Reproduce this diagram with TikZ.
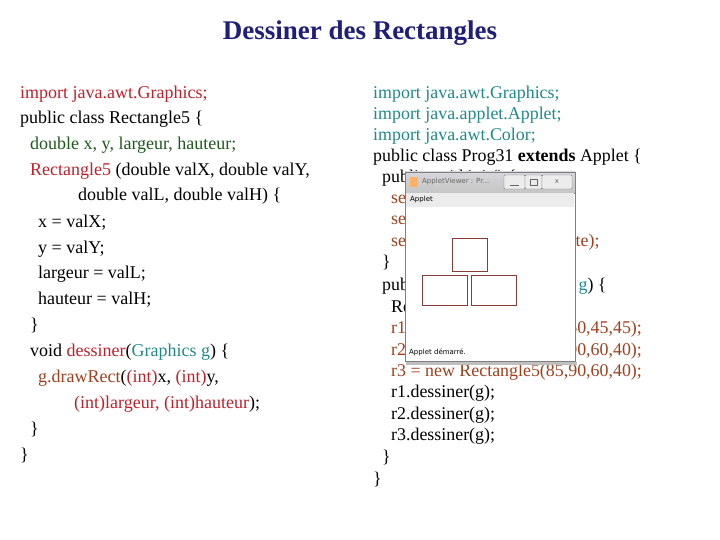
\documentclass[tikz,border=0pt]{standalone}
\usepackage{fontspec}
\setmainfont{Liberation Serif}
\newfontfamily\uifont{DejaVu Sans}
\definecolor{navy}{HTML}{1F1F7A}
\definecolor{kred}{HTML}{C0202A}
\definecolor{kbrown}{HTML}{A0401E}
\definecolor{kgreen}{HTML}{1E5A1E}
\definecolor{kteal}{HTML}{208A8A}
\definecolor{rectc}{HTML}{8B3A3A}
\begin{document}
\begin{tikzpicture}[x=1pt,y=-1pt,
  code/.style={anchor=base west,inner sep=0pt,font=\fontsize{18}{18}\selectfont},
  rcode/.style={anchor=base west,inner sep=0pt,font=\fontsize{17.9}{17.9}\selectfont}]
\useasboundingbox[fill=white] (0,0) rectangle (720,540);
\node[font=\fontsize{27}{27}\selectfont\bfseries,text=navy,inner sep=0pt] (title) at (360,33) {Dessiner des Rectangles};
% left column
\node[code,text=kred] (l1) at (20,99) {import java.awt.Graphics;};
\node[code] (l2) at (20,124) {public class Rectangle5 \{};
\node[code,text=kgreen] (l3) at (30,150) {double x, y, largeur, hauteur;};
\node[code] (l4) at (30,176) {\textcolor{kred}{Rectangle5} (double valX, double valY,};
\node[code] (l5) at (78,201) {double valL, double valH) \{};
\node[code] (l6) at (38,227) {x = valX;};
\node[code] (l7) at (38,253) {y = valY;};
\node[code] (l8) at (38,278) {largeur = valL;};
\node[code] (l9) at (38,304) {hauteur = valH;};
\node[code] (l10) at (30,330) {\}};
\node[code] (l11) at (30,356) {void \textcolor{kred}{dessiner}(\textcolor{kteal}{Graphics g}) \{};
\node[code] (l12) at (38,382) {\textcolor{kbrown}{g.drawRect}(\textcolor{kred}{(int)}x, \textcolor{kred}{(int)}y,};
\node[code,text=kred] (l13) at (74,408) {(int)largeur, (int)hauteur\textcolor{black}{);}};
\node[code] (l14) at (30,434) {\}};
\node[code] (l15) at (20,460) {\}};
% right column
\node[rcode,text=kteal] (r1) at (373,99) {import java.awt.Graphics;};
\node[rcode,text=kteal] (r2) at (373,120) {import java.applet.Applet;};
\node[rcode,text=kteal] (r3) at (373,141) {import java.awt.Color;};
\node[rcode] (r4) at (373,162) {public class Prog31 \textbf{extends} Applet \{};
\node[rcode] (r5) at (382,183) {public void init() \{};
\node[rcode,text=kbrown] (r6) at (391,204) {setSize(150,150);};
\node[rcode,text=kbrown] (r7) at (391,225) {setColor(Color.red);};
\node[rcode,text=kbrown] (r8) at (391,246) {setBackground(Color.white);};
\node[rcode] (r9) at (382,267) {\}};
\node[rcode] (r10) at (382,290) {public void paint(\textcolor{kteal}{Graphics g}) \{};
\node[rcode] (r11) at (391,312) {Rectangle5 r1, r2, r3;};
\node[rcode,text=kbrown] (r12) at (391,333) {r1 = new Rectangle5(50,50,45,45);};
\node[rcode,text=kbrown] (r13) at (391,355) {r2 = new Rectangle5(20,90,60,40);};
\node[rcode,text=kbrown] (r14) at (391,376) {r3 = new Rectangle5(85,90,60,40);};
\node[rcode] (r15) at (391,397) {r1.dessiner(g);};
\node[rcode] (r16) at (391,419) {r2.dessiner(g);};
\node[rcode] (r17) at (391,440) {r3.dessiner(g);};
\node[rcode] (r18) at (382,462) {\}};
\node[rcode] (r19) at (373,484) {\}};
% applet window
\fill[black!25] (406,362) rectangle (577,365);
\draw[gray,fill=white] (405,172) rectangle (575,361);
\shade[top color=blue!8!gray!30,bottom color=gray!45,draw=gray] (405,172) rectangle (575,193);
\node[anchor=west,inner sep=0pt,font=\uifont\fontsize{7}{7}\selectfont,text=black!60] (wt) at (422,182) {AppletViewer : Pr...};
\fill[orange!60] (410,177) rectangle (418,187);
\draw[gray,fill=gray!15,rounded corners=1pt] (504,175) rectangle (525,189);
\draw[gray,fill=gray!15,rounded corners=1pt] (525,175) rectangle (542,189);
\draw[gray,fill=gray!15,rounded corners=1pt] (542,175) rectangle (572,189);
\draw[black!60] (510,185) -- (519,185);
\draw[black!60] (530,179) rectangle (537,185);
\node[font=\uifont\fontsize{7}{7}\selectfont,text=black!60,inner sep=0pt] (wx) at (557,182) {x};
\fill[gray!15] (406,193) rectangle (574,207);
\node[anchor=west,inner sep=0pt,font=\uifont\fontsize{7}{7}\selectfont] (menu) at (410,200) {Applet};
\draw[rectc,thick] (452,238) rectangle (487,271);
\draw[rectc,thick] (422,275) rectangle (467,305);
\draw[rectc,thick] (471,275) rectangle (516,305);
\node[anchor=west,inner sep=0pt,font=\uifont\fontsize{7}{7}\selectfont] (status) at (409,352) {Applet démarré.};
\end{tikzpicture}
\end{document}
